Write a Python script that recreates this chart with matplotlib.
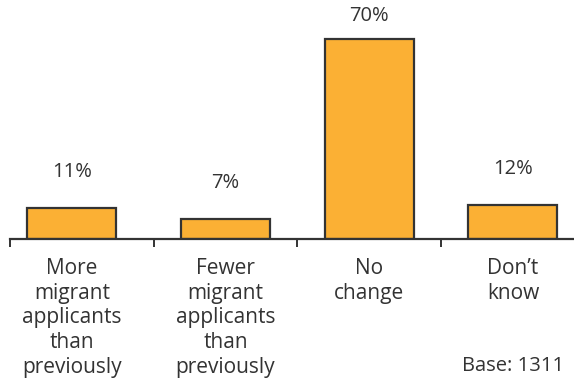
import numpy as np
from matplotlib import pyplot as plt

plt.rcParams["font.family"] = ["Open Sans", "DejaVu Sans"]

categories = ["More\nmigrant\napplicants\nthan\npreviously",
              "Fewer\nmigrant\napplicants\nthan\npreviously",
              "No\nchange",
              "Don\u2019t\nknow"]
values = [11, 7, 70, 12]
value_labels = ["11%", "7%", "70%", "12%"]
base_note = "Base: 1311"

text_col = "#333333"
bar_col = "#FBB034"

fig = plt.figure(figsize=(5.74, 3.83), dpi=100)
ax = fig.add_axes([10 / 574, 144 / 383, 564 / 574, 239 / 383])

x = np.arange(len(values)).astype(float)
x[0] -= 0.07  # first bar sits a little left in the original
ax.bar(x, values, width=0.62, color=bar_col, edgecolor="#333333", linewidth=1.6)

ax.set_xlim(-0.5, 3.425)
ax.set_ylim(0, 83.6)

for xi, v, lab in zip(x, values, value_labels):
    y = min(v + 9, 74.5)
    ax.text(xi, y, lab, ha="center", va="bottom", fontsize=14.5, color=text_col)

for s in ["top", "right", "left"]:
    ax.spines[s].set_visible(False)
ax.spines["bottom"].set_color("#333333")
ax.spines["bottom"].set_linewidth(1.6)
ax.set_yticks([])

ax.set_xticks([-0.5, 0.5, 1.5, 2.5])
ax.set_xticklabels([])
ax.tick_params(axis="x", which="major", direction="out", length=6, width=1.4, color="#333333")
ax.set_xticks(x, minor=True)
ax.set_xticklabels(categories, minor=True, fontsize=15, color=text_col, linespacing=1.22, va="top")
ax.tick_params(axis="x", which="minor", length=0, pad=14)

ax.text(3.0, -41.0, base_note, ha="center", va="top", fontsize=14.5, color=text_col)

plt.savefig("out.png", dpi=100)
